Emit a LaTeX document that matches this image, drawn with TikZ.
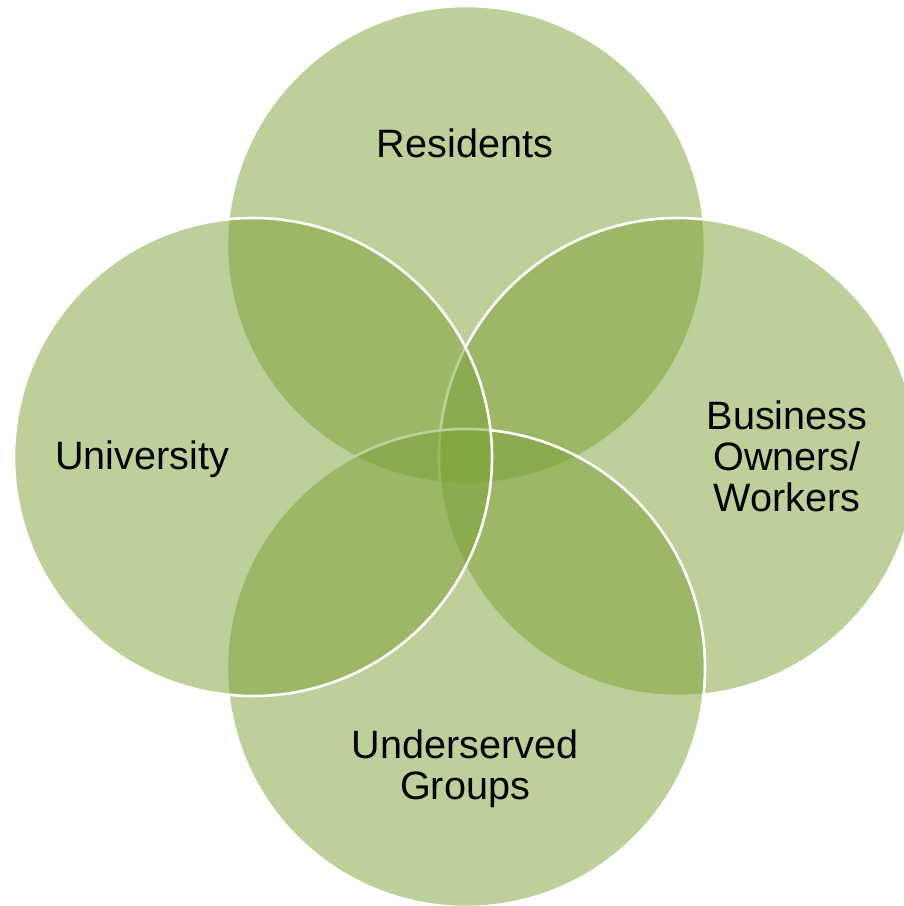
\documentclass[tikz,border=0pt]{standalone}
\usepackage{fontspec}
\setmainfont{Liberation Sans}
\definecolor{venngreen}{RGB}{123,161,53}
\begin{document}
\begin{tikzpicture}[x=1pt,y=-1pt,
  venn/.style={circle, inner sep=0pt, minimum size=478pt,
    fill=venngreen, fill opacity=0.5, draw=white, line width=2.6pt},
  vlabel/.style={align=center, text=black,
    font=\fontsize{39.6}{41}\selectfont}]
\useasboundingbox (0,0) rectangle (904,906);
% four overlapping sets, stacked top, right, bottom, left
\node[venn] (residents)   at (466,245) {};
\node[venn] (business)    at (678,457) {};
\node[venn] (underserved) at (466,668) {};
\node[venn] (university)  at (253,457) {};
% set labels
\node[vlabel] (lres) at (465,143) {Residents};
\node[vlabel] (lbus) at (787,456) {Business\\Owners/\\Workers};
\node[vlabel] (lund) at (465,769) {Underserved\\Groups};
\node[vlabel] (luni) at (142,459) {University};
\end{tikzpicture}
\end{document}
